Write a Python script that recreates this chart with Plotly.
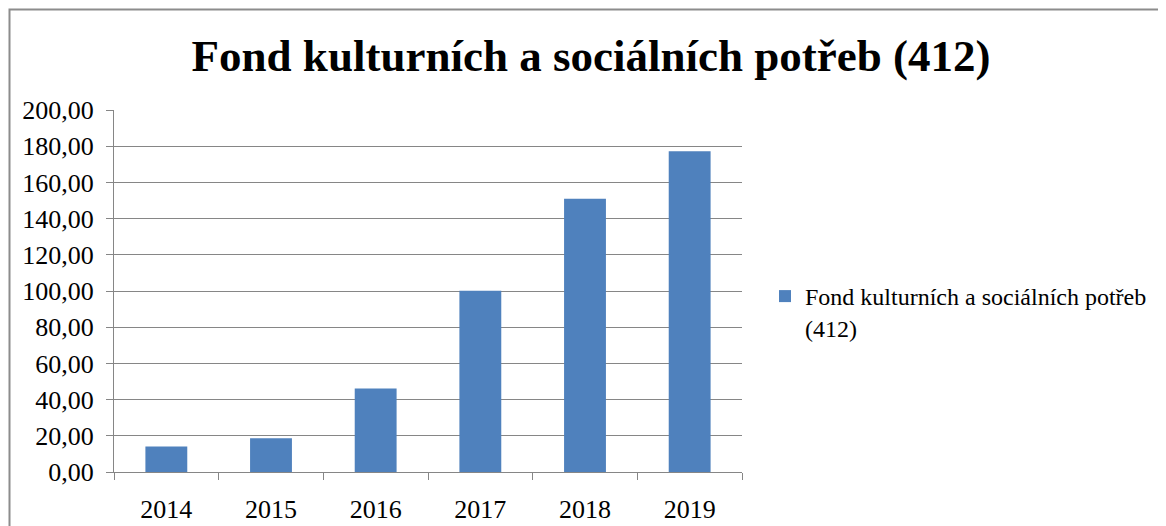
import plotly.graph_objects as go

years = ["2014", "2015", "2016", "2017", "2018", "2019"]
values = [14.1, 18.6, 46.2, 100.1, 150.9, 177.2]
series_name = "Fond kulturních a sociálních potřeb<br>(412)"
title_text = "Fond kulturních a sociálních potřeb (412)"
y_ticks = [0, 20, 40, 60, 80, 100, 120, 140, 160, 180, 200]

# page has an 8px body margin; plot area in page pixels: x 114..742, y 110..472
OFF = 8
PW, PH = 1166, 526
PL, PR, PT, PB = 114, 742, 110, 472
W, H = PW - OFF, PH - OFF
L, T = PL - OFF, PT - OFF
R, B = PW - PR, PH - PB
pw, ph = PR - PL, PB - PT

grid = "#868686"
serif = "Liberation Serif, Times New Roman, serif"

fig = go.Figure(go.Bar(
    x=years, y=values, name=series_name,
    marker=dict(color="#4F81BD", line=dict(width=0)),
    showlegend=True,
))

fig.update_layout(
    width=W, height=H,
    margin=dict(l=L, r=R, t=T, b=B, autoexpand=False),
    paper_bgcolor="white", plot_bgcolor="white",
    separators=", ",
    bargap=0.6,
    font=dict(family=serif, color="black"),
    title=dict(text="<b>" + title_text + "</b>", font=dict(family=serif, size=45, color="black"),
               x=(591 - OFF) / W, xref="container", xanchor="center",
               y=1 - (55 - OFF) / H, yref="container", yanchor="middle"),
    legend=dict(x=(765 - PL) / pw, xanchor="left", y=(PB - 274) / ph, yanchor="top",
                font=dict(family=serif, size=24, color="black"), valign="top",
                bgcolor="rgba(0,0,0,0)", itemwidth=30),
    xaxis=dict(type="category", showgrid=False, showline=True, linecolor=grid, linewidth=1,
               ticks="outside", tickson="boundaries", ticklen=7, tickcolor=grid, tickwidth=1,
               tickfont=dict(family=serif, size=26, color="black"), ticklabelstandoff=14),
    yaxis=dict(range=[0, 200], tickvals=y_ticks, tickformat=".2f", showgrid=True,
               gridcolor=grid, gridwidth=1, showline=True, linecolor=grid, linewidth=1,
               ticks="outside", ticklen=7, tickcolor=grid, tickwidth=1, zeroline=False,
               tickfont=dict(family=serif, size=26, color="black"), ticklabelstandoff=7),
    shapes=[dict(type="rect", xref="paper", yref="paper",
                 x0=(9.5 - PL) / pw, x1=(PW + 20 - PL) / pw,
                 y0=(PB - PH - 20) / ph, y1=(PB - 9.5) / ph,
                 line=dict(color="#8c8c8c", width=2), fillcolor="rgba(0,0,0,0)", layer="above")],
)

fig.write_html("out.html")
